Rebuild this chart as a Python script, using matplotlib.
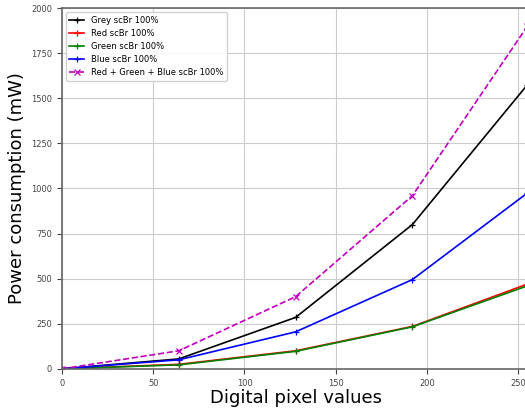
import matplotlib
matplotlib.use("Agg")
import matplotlib.pyplot as plt

x_vals = [0, 64, 128, 192, 255]
grey = [0, 55, 285, 800, 1575]
red = [0, 25, 100, 235, 470]
green = [0, 22, 97, 233, 460]
blue = [0, 50, 205, 495, 975]
rgb = [0, 100, 400, 960, 1900]

fig = plt.figure(figsize=(5.25, 4.08), dpi=100)
ax = fig.add_axes([0.118, 0.096, 0.89, 0.884])

kw = dict(lw=1.2, ms=4, mew=0.9)
ax.plot(x_vals, grey, color="black", marker="+", label="Grey scBr 100%", **kw)
ax.plot(x_vals, red, color="red", marker="+", label="Red scBr 100%", **kw)
ax.plot(x_vals, green, color="green", marker="+", label="Green scBr 100%", **kw)
ax.plot(x_vals, blue, color="blue", marker="+", label="Blue scBr 100%", **kw)
ax.plot(x_vals, rgb, color="m", marker="x", ls="--", label="Red + Green + Blue scBr 100%", **kw)

ax.set_xlim(0, 256)
ax.set_ylim(0, 2000)
ax.set_xticks([0, 50, 100, 150, 200, 250])
ax.set_yticks(range(0, 2001, 250))
ax.tick_params(labelsize=6, colors="#444444")
ax.grid(True, color="#cccccc", lw=0.8)
for s in ax.spines.values():
    s.set_color("#666666")
    s.set_linewidth(1.2)

ax.set_xlabel("Digital pixel values", fontsize=13, labelpad=1)
ax.set_ylabel("Power consumption (mW)", fontsize=13, labelpad=4)
ax.legend(loc="upper left", fontsize=6, framealpha=0.9, handlelength=1.8)

fig.savefig("out.png", dpi=100)
